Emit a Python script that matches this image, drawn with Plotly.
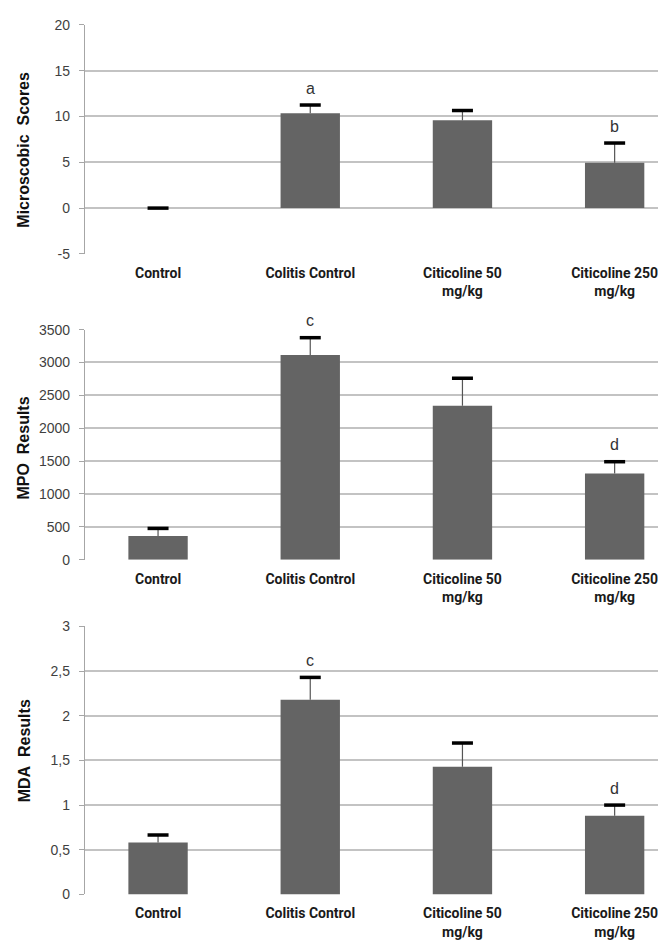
import plotly.graph_objs as go

groups = ['Control', 'Colitis Control', 'Citicoline 50 mg/kg', 'Citicoline 250 mg/kg']
group_labels = ['Control', 'Colitis Control', 'Citicoline 50<br>mg/kg', 'Citicoline 250<br>mg/kg']

# microscopic scores
micro_mean = [0, 10.35, 9.6, 4.95]
micro_err = [0, 0.9, 1.05, 2.15]
micro_sig = ['', 'a', '', 'b']

# MPO
mpo_mean = [360, 3112, 2340, 1310]
mpo_err = [115, 265, 420, 180]
mpo_sig = ['', 'c', '', 'd']

# MDA
mda_mean = [0.58, 2.18, 1.43, 0.88]
mda_err = [0.085, 0.25, 0.265, 0.12]
mda_sig = ['', 'c', '', 'd']

W, H = 666, 946
bar_col = '#646464'
grid_col = '#c3c3c3'
tick_font = dict(family='Liberation Sans, Arial, sans-serif', size=14, color='#3f3f3f')
cat_font = dict(family='Roboto, Liberation Sans, sans-serif', size=14,
                color='#1a1a1a', weight='bold')
title_font = dict(family='Liberation Sans, Arial, sans-serif', size=16, color='#111111')

# panel pixel extents (top, bottom)
panels = [
    dict(mean=micro_mean, err=micro_err, sig=micro_sig, rng=[-5, 20], dtick=5,
         title='Microscobic\u00a0 Scores', px=(9, 242), tcenter=136),
    dict(mean=mpo_mean, err=mpo_err, sig=mpo_sig, rng=[0, 3500], dtick=500,
         title='MPO\u00a0 Results', px=(319, 553), tcenter=440),
    dict(mean=mda_mean, err=mda_err, sig=mda_sig, rng=[0, 3], dtick=0.5,
         title='MDA\u00a0 Results', px=(621, 893.5), tcenter=748),
]

fig = go.Figure()
annotations = []
left = 77

for i, p in enumerate(panels):
    n = '' if i == 0 else str(i + 1)
    xa, ya = 'x' + n, 'y' + n
    fig.add_trace(go.Bar(x=groups, y=p['mean'], xaxis=xa, yaxis=ya, width=0.39,
                         marker=dict(color=bar_col, line=dict(width=0)),
                         error_y=dict(type='data', array=p['err'], arrayminus=[0] * 4,
                                      symmetric=False, color='#555555', thickness=1.2, width=0),
                         showlegend=False))
    tops = [m + e for m, e in zip(p['mean'], p['err'])]
    fig.add_trace(go.Scatter(x=groups, y=tops, xaxis=xa, yaxis=ya, mode='markers',
                             marker=dict(symbol='line-ew', size=15, line=dict(width=3.5, color='black')),
                             showlegend=False, cliponaxis=False))
    for g, t, s in zip(groups, tops, p['sig']):
        if s:
            annotations.append(dict(x=g, y=t, xref=xa, yref=ya, text=s, showarrow=False,
                                    yshift=17, yanchor='middle',
                                    font=dict(family='Liberation Sans, Arial, sans-serif', size=16, color='#333333')))
    top, bot = p['px']
    dom = [1 - bot / H, 1 - top / H]
    fig.layout['yaxis' + n] = dict(domain=dom, range=p['rng'], dtick=p['dtick'], anchor=xa,
                                   showgrid=True, gridcolor=grid_col, gridwidth=1.5,
                                   zeroline=False, showline=True, linecolor='#a6a6a6', linewidth=1.3,
                                   ticks='outside', ticklen=5, tickcolor='#a6a6a6',
                                   ticklabelstandoff=6, tickfont=tick_font, exponentformat='none',
                                   tickformat='~r' if i == 2 else None)
    fig.layout['xaxis' + n] = dict(domain=[0, 1], range=[-0.48, 3.39], anchor=ya, type='category',
                                   tickvals=groups, ticktext=group_labels, tickfont=cat_font,
                                   showgrid=False, zeroline=False, showline=False, ticks='',
                                   ticklabelstandoff=9)
    annotations.append(dict(x=(16 - left) / (W - left), y=1 - p['tcenter'] / H, xref='paper', yref='paper',
                            text='<b>' + p['title'] + '</b>', textangle=-90, showarrow=False,
                            xanchor='center', yanchor='middle', font=title_font))

# plain hyphen for the negative tick, as in the original
fig.layout.yaxis.tickvals = [-5, 0, 5, 10, 15, 20]
fig.layout.yaxis.ticktext = ['-5', '0', '5', '10', '15', '20']

fig.update_layout(width=W, height=H, margin=dict(l=left, r=0, t=0, b=0),
                  plot_bgcolor='white', paper_bgcolor='white', separators=',.',
                  bargap=0.6, annotations=annotations)

fig.write_html('out.html')
